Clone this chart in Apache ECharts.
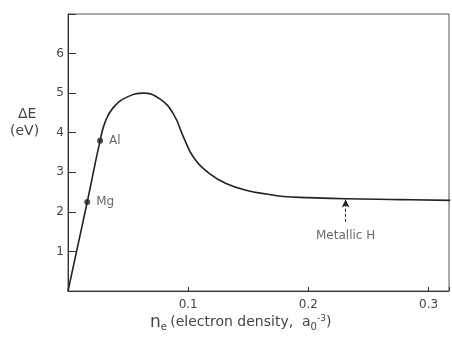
<!DOCTYPE html>
<html>
<head>
<meta charset="utf-8">
<script src="https://cdn.jsdelivr.net/npm/echarts@6/dist/echarts.min.js"></script>
<style>
  html, body { margin: 0; padding: 0; background: #fff; }
  #chart { width: 452px; height: 341px; }
</style>
</head>
<body>
<div id="chart"></div>
<script>
// electron density (a0^-3) and band gap dE (eV)
const density = [0, 0.016, 0.0267, 0.031, 0.0378, 0.049, 0.0628, 0.0767, 0.0878, 0.0961, 0.1044, 0.118, 0.132, 0.149, 0.165, 0.179, 0.2, 0.231, 0.277, 0.318];
const gap = [0, 2.25, 3.8, 4.28, 4.64, 4.9, 5.0, 4.85, 4.47, 3.89, 3.38, 2.96, 2.71, 2.54, 2.45, 2.39, 2.36, 2.33, 2.31, 2.29];

const metals = ['Mg', 'Al'];
const metalDensity = [0.016, 0.0267];
const metalGap = [2.25, 3.8];

const metallicH = { name: 'Metallic H', density: 0.231, gap: 2.33, from: 1.75, labelAt: 1.39 };

const xTicks = [0.1, 0.2, 0.3];
const yTicks = [1, 2, 3, 4, 5, 6];

const chart = echarts.init(document.getElementById('chart'));
const ink = '#222';
const textColor = '#444';
const font = 'DejaVu Sans';

const option = {
  animation: false,
  grid: {
    left: 68, top: 14, right: 3, bottom: 50,
    show: true, borderColor: '#555', borderWidth: 1,
  },
  xAxis: {
    type: 'value',
    min: 0,
    max: 0.317,
    interval: 0.1,
    axisLine: { lineStyle: { color: '#333', width: 1 } },
    axisTick: { inside: true, length: 4, lineStyle: { color: '#333' } },
    splitLine: { show: false },
    axisLabel: {
      color: textColor, fontFamily: font, fontSize: 12, margin: 8,
      formatter: (v) => (xTicks.some((t) => Math.abs(t - v) < 1e-6) ? String(Math.round(v * 10) / 10) : ''),
    },
  },
  yAxis: {
    type: 'value',
    min: 0,
    max: 7,
    interval: 1,
    axisLine: { lineStyle: { color: '#333', width: 1 } },
    axisTick: { inside: true, length: 8, lineStyle: { color: '#333' } },
    splitLine: { show: false },
    axisLabel: {
      color: textColor, fontFamily: font, fontSize: 12, margin: 4,
      formatter: (v) => (yTicks.indexOf(v) >= 0 ? String(v) : ''),
    },
  },
  graphic: [
    {
      type: 'text', left: 18, top: 107,
      style: { text: 'ΔE', fill: textColor, font: '14px "DejaVu Sans"' },
    },
    {
      type: 'text', left: 10, top: 124,
      style: { text: '(eV)', fill: textColor, font: '14px "DejaVu Sans"' },
    },
    {
      type: 'text', left: 150, top: 314,
      style: {
        text: '{n|n}{s|e} {t|(electron density,  a}{s|0}{p|-3}{t|)}',
        rich: {
          n: { fontSize: 17, fill: textColor, fontFamily: font },
          s: { fontSize: 10, fill: textColor, fontFamily: font, padding: [10, 0, 0, 0] },
          p: { fontSize: 9, fill: textColor, fontFamily: font, padding: [0, 0, 8, 0] },
          t: { fontSize: 14, fill: textColor, fontFamily: font },
        },
      },
    },
  ],
  series: [
    {
      type: 'line',
      data: density.map((d, i) => [d, gap[i]]),
      smooth: 0.45,
      showSymbol: false,
      lineStyle: { color: ink, width: 1.6 },
      markLine: {
        silent: true,
        symbol: ['none', 'arrow'],
        symbolSize: [6, 8],
        lineStyle: { color: ink, width: 1, type: [3, 2] },
        label: { show: false },
        data: [[
          { coord: [metallicH.density, metallicH.from] },
          { coord: [metallicH.density, metallicH.gap - 0.02] },
        ]],
      },
    },
    {
      type: 'scatter',
      data: metals.map((m, i) => ({ name: m, value: [metalDensity[i], metalGap[i]] })),
      symbolSize: 6,
      itemStyle: { color: ink },
      label: {
        show: true, position: 'right', distance: 6,
        formatter: (p) => p.name,
        color: textColor, fontFamily: font, fontSize: 12,
      },
    },
    {
      type: 'scatter',
      data: [{ name: metallicH.name, value: [metallicH.density, metallicH.labelAt] }],
      symbolSize: 0,
      label: {
        show: true, position: 'inside',
        formatter: (p) => p.name,
        color: textColor, fontFamily: font, fontSize: 12,
      },
    },
  ],
};

chart.setOption(option);
</script>
</body>
</html>
